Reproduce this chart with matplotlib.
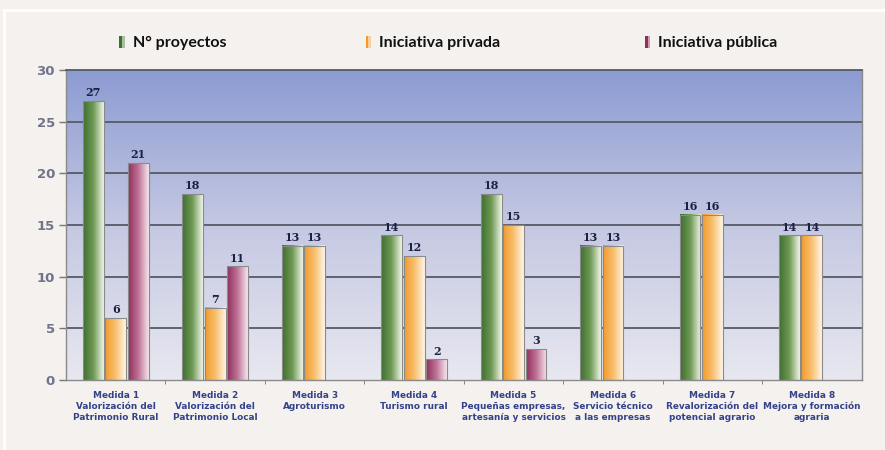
import matplotlib
matplotlib.use("Agg")
import matplotlib.pyplot as plt
import numpy as np
from matplotlib.colors import LinearSegmentedColormap
from matplotlib.patches import Rectangle

categories = [
    "Medida 1\nValorización del\nPatrimonio Rural",
    "Medida 2\nValorización del\nPatrimonio Local",
    "Medida 3\nAgroturismo",
    "Medida 4\nTurismo rural",
    "Medida 5\nPequeñas empresas,\nartesanía y servicios",
    "Medida 6\nServicio técnico\na las empresas",
    "Medida 7\nRevalorización del\npotencial agrario",
    "Medida 8\nMejora y formación\nagraria",
]
proyectos = [27, 18, 13, 14, 18, 13, 16, 14]
privada = [6, 7, 13, 12, 15, 13, 16, 14]
publica = [21, 11, 0, 2, 3, 0, 0, 0]
series_names = ["N° proyectos", "Iniciativa privada", "Iniciativa pública"]
yticks = [0, 5, 10, 15, 20, 25, 30]

grad = {
    0: ("#3f6e2e", "#6f9a55", "#f2f6ea"),
    1: ("#f29a2a", "#f8bf6e", "#fff6ea"),
    2: ("#8e2f5c", "#c07396", "#f6e6ee"),
}

fig = plt.figure(figsize=(8.85, 4.5), dpi=100)
fig.patch.set_facecolor("#f4f1ee")
# white frame
fig.add_artist(Rectangle((0.004, -0.01), 1.2, 0.988, transform=fig.transFigure,
                         fill=False, edgecolor="#ffffff", lw=2.0))

ax = fig.add_axes([0.0746, 0.1556, 0.899, 0.6888])
ax.set_xlim(-0.5, len(categories) - 0.5)
ax.set_ylim(0, 30)

# background gradient
bg = LinearSegmentedColormap.from_list("bg", ["#e8e8f0", "#c4c8e2", "#8c9bd2"])
gy = np.linspace(0, 1, 256).reshape(-1, 1)
ax.imshow(gy, cmap=bg, aspect="auto", extent=[0, 1, 0, 1], transform=ax.transAxes,
          origin="lower", zorder=0)

for y in yticks[1:-1]:
    ax.axhline(y, color="#565a64", lw=1.3, zorder=1)

x = np.arange(len(categories))
w = 0.21
step = 0.226
all_series = [proyectos, privada, publica]
for si, vals in enumerate(all_series):
    cmap = LinearSegmentedColormap.from_list("c%d" % si, list(grad[si]))
    gx = np.linspace(0, 1, 128).reshape(1, -1)
    bars = ax.bar(x + (si - 1) * step, vals, width=w, facecolor="none",
                  edgecolor="#8a8a8a", lw=0.8, zorder=3)
    for b, v in zip(bars, vals):
        if v <= 0:
            b.set_visible(False)
            continue
        ax.imshow(gx, cmap=cmap, aspect="auto",
                  extent=[b.get_x(), b.get_x() + b.get_width(), 0, b.get_height()],
                  zorder=2, interpolation="bilinear")
        ax.text(b.get_x() + b.get_width() / 2, b.get_height() + 0.25, str(v),
                ha="center", va="bottom", fontsize=8, fontweight="bold",
                family="DejaVu Serif", color="#1c2044", zorder=4)

ax.set_xlim(-0.5, len(categories) - 0.5)
ax.set_ylim(0, 30)

ax.set_yticks(yticks)
ax.set_yticklabels([str(t) for t in yticks], fontsize=9.5, color="#70748a",
                   fontweight="bold")
ax.tick_params(axis="y", length=5, color="#777777", width=1, pad=3)
ax.set_xticks(x)
ax.set_xticklabels(categories, fontsize=6.4, color="#34428a", fontweight="bold",
                   family=["Liberation Sans Narrow", "DejaVu Sans"], linespacing=1.25)
ax.tick_params(axis="x", length=0, pad=8)
ax.set_xticks(np.arange(0.5, len(categories) - 1, 1.0), minor=True)
ax.tick_params(axis="x", which="minor", length=3, color="#777777", direction="out")

for s in ["left", "bottom", "right"]:
    ax.spines[s].set_color("#8a8a8a")
    ax.spines[s].set_linewidth(1.0)
ax.spines["top"].set_color("#565a64")
ax.spines["top"].set_linewidth(1.3)

# legend
leg_x = [0.135, 0.413, 0.729]
leg_cols = [grad[0], grad[1], grad[2]]
for lx, name, cols in zip(leg_x, series_names, leg_cols):
    fig.add_artist(Rectangle((lx, 0.893), 0.006, 0.026, transform=fig.transFigure,
                             facecolor=cols[0], edgecolor="none"))
    fig.add_artist(Rectangle((lx + 0.003, 0.893), 0.003, 0.026, transform=fig.transFigure,
                             facecolor=cols[2], edgecolor="none", alpha=0.6))
    fig.text(lx + 0.015, 0.905, name, fontsize=11.5, fontweight="bold",
             family=["Lato", "DejaVu Sans"], color="#111111", va="center", ha="left")

fig.savefig("out.png", dpi=100, facecolor=fig.get_facecolor())
